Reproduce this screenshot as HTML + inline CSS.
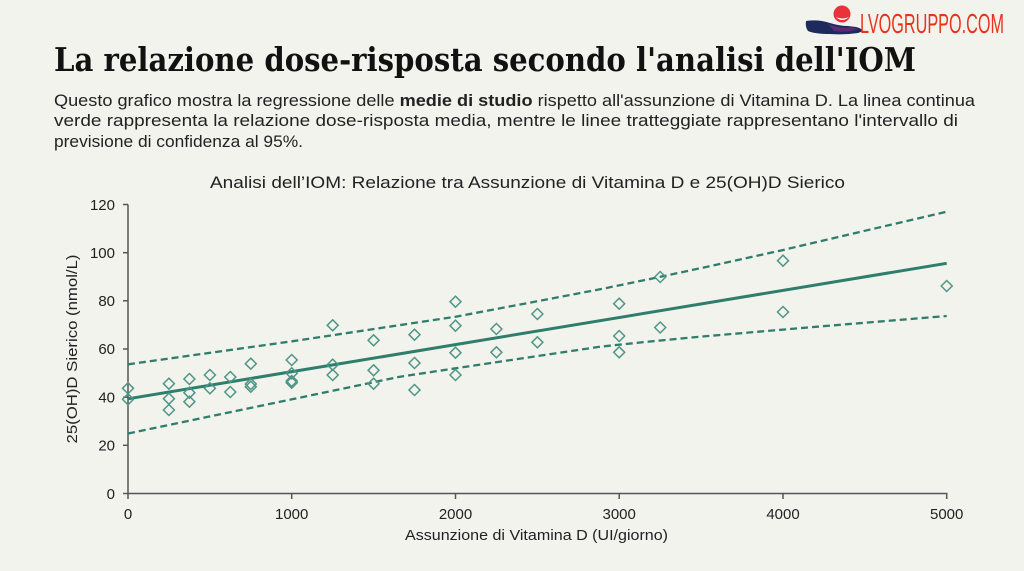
<!DOCTYPE html>
<html>
<head>
<meta charset="utf-8">
<style>
html,body{margin:0;padding:0;background:#f3f3ee;}
svg{display:block;}
</style>
</head>
<body>
<svg width="1024" height="571" viewBox="0 0 1024 571" xmlns="http://www.w3.org/2000/svg">
<rect x="0" y="0" width="1024" height="571" fill="#f3f3ee"/>

<!-- Logo -->
<g>
  <path d="M806,21 Q818,19 830,23 Q840,26 848,26 L856,27 Q861,28 863,31 L858,33 Q845,35 830,34 Q815,34 808,31 Q805,27 806,21 Z" fill="#1d2a5c"/>
  <path d="M828,24 Q840,29 852,27 L858,29 Q848,33 834,31 Z" fill="#6a2a7a" opacity="0.8"/>
  <circle cx="842" cy="14" r="8.5" fill="#e8333a"/>
  <path d="M836,17 Q842,23 849,17 Q842,20 836,17 Z" fill="#ffffff"/>
  <text x="860" y="33" font-family="'Liberation Sans Narrow','Liberation Sans',sans-serif" font-size="28" fill="#e8331c" textLength="144" lengthAdjust="spacingAndGlyphs">LVOGRUPPO.COM</text>
</g>

<!-- Title -->
<text x="54" y="71" font-family="'DejaVu Serif','Liberation Serif',serif" font-weight="bold" font-size="33" fill="#111" textLength="862" lengthAdjust="spacingAndGlyphs">La relazione dose-risposta secondo l'analisi dell'IOM</text>

<!-- Subtitle -->
<g font-family="'Liberation Sans',sans-serif" font-size="17" fill="#222">
  <text x="54" y="106" textLength="921" lengthAdjust="spacingAndGlyphs">Questo grafico mostra la regressione delle <tspan font-weight="bold">medie di studio</tspan> rispetto all'assunzione di Vitamina D. La linea continua</text>
  <text x="54" y="126" textLength="904" lengthAdjust="spacingAndGlyphs">verde rappresenta la relazione dose-risposta media, mentre le linee tratteggiate rappresentano l'intervallo di</text>
  <text x="54" y="147" textLength="249" lengthAdjust="spacingAndGlyphs">previsione di confidenza al 95%.</text>
</g>

<!-- Chart title -->
<text x="210" y="188" font-family="'Liberation Sans',sans-serif" font-size="17" fill="#222" textLength="635" lengthAdjust="spacingAndGlyphs">Analisi dell’IOM: Relazione tra Assunzione di Vitamina D e 25(OH)D Sierico</text>

<!-- Axes -->
<g stroke="#555" stroke-width="1.5" fill="none">
  <line x1="128" y1="204.5" x2="128" y2="494"/>
  <line x1="127.3" y1="493.5" x2="947.5" y2="493.5"/>
  <!-- y ticks -->
  <line x1="123" y1="204.5" x2="128" y2="204.5"/>
  <line x1="123" y1="252.7" x2="128" y2="252.7"/>
  <line x1="123" y1="300.8" x2="128" y2="300.8"/>
  <line x1="123" y1="349" x2="128" y2="349"/>
  <line x1="123" y1="397.2" x2="128" y2="397.2"/>
  <line x1="123" y1="445.3" x2="128" y2="445.3"/>
  <line x1="123" y1="493.5" x2="128" y2="493.5"/>
  <!-- x ticks -->
  <line x1="128" y1="493.5" x2="128" y2="499"/>
  <line x1="291.7" y1="493.5" x2="291.7" y2="499"/>
  <line x1="455.5" y1="493.5" x2="455.5" y2="499"/>
  <line x1="619.2" y1="493.5" x2="619.2" y2="499"/>
  <line x1="783" y1="493.5" x2="783" y2="499"/>
  <line x1="946.7" y1="493.5" x2="946.7" y2="499"/>
</g>

<!-- Y tick labels -->
<g font-family="'Liberation Sans',sans-serif" font-size="15" fill="#222" text-anchor="end">
  <text x="115" y="210">120</text>
  <text x="115" y="258">100</text>
  <text x="115" y="306">80</text>
  <text x="115" y="354">60</text>
  <text x="115" y="402.5">40</text>
  <text x="115" y="450.5">20</text>
  <text x="115" y="499">0</text>
</g>

<!-- X tick labels -->
<g font-family="'Liberation Sans',sans-serif" font-size="15" fill="#222" text-anchor="middle">
  <text x="128" y="519">0</text>
  <text x="291.7" y="519">1000</text>
  <text x="455.5" y="519">2000</text>
  <text x="619.2" y="519">3000</text>
  <text x="783" y="519">4000</text>
  <text x="946.7" y="519">5000</text>
</g>

<!-- Axis titles -->
<text x="536.5" y="540" font-family="'Liberation Sans',sans-serif" font-size="14.5" fill="#222" text-anchor="middle" textLength="263" lengthAdjust="spacingAndGlyphs">Assunzione di Vitamina D (UI/giorno)</text>
<text transform="translate(77,349) rotate(-90)" x="0" y="0" font-family="'Liberation Sans',sans-serif" font-size="14.5" fill="#222" text-anchor="middle" textLength="189" lengthAdjust="spacingAndGlyphs">25(OH)D Sierico (nmol/L)</text>

<!-- Confidence lines -->
<g fill="none" stroke="#2f7d6c" stroke-width="2.3" stroke-dasharray="7,4">
  <polyline points="128,364.3 210,352.8 292,341.3 374,329 455.7,316.7 528,303 600,289.3 650,279 700,268.3 740,259.5 780,250.7 863,231.2 946.7,211.7"/>
  <polyline points="128,433.5 210,416.4 292,399.3 346,388 400,376.7 455.7,368.3 528,357.5 600,346.7 650,341.5 700,336.7 823,326.2 946.7,316"/>
</g>

<!-- Fit line -->
<line x1="128" y1="398.8" x2="946.7" y2="263.3" stroke="#2f7d6c" stroke-width="3"/>

<!-- Data points -->
<g fill="none" stroke="#4f9686" stroke-width="1.5">
  <path d="M128,382.8 l5.5,5.5 l-5.5,5.5 l-5.5,-5.5 Z"/>
  <path d="M128,393.8 l5.5,5.5 l-5.5,5.5 l-5.5,-5.5 Z"/>
  <path d="M168.9,378.2 l5.5,5.5 l-5.5,5.5 l-5.5,-5.5 Z"/>
  <path d="M168.9,393.2 l5.5,5.5 l-5.5,5.5 l-5.5,-5.5 Z"/>
  <path d="M168.9,404.5 l5.5,5.5 l-5.5,5.5 l-5.5,-5.5 Z"/>
  <path d="M189.4,373.5 l5.5,5.5 l-5.5,5.5 l-5.5,-5.5 Z"/>
  <path d="M189.4,387.2 l5.5,5.5 l-5.5,5.5 l-5.5,-5.5 Z"/>
  <path d="M189.4,396.2 l5.5,5.5 l-5.5,5.5 l-5.5,-5.5 Z"/>
  <path d="M209.9,369.5 l5.5,5.5 l-5.5,5.5 l-5.5,-5.5 Z"/>
  <path d="M209.9,382.8 l5.5,5.5 l-5.5,5.5 l-5.5,-5.5 Z"/>
  <path d="M230.3,371.5 l5.5,5.5 l-5.5,5.5 l-5.5,-5.5 Z"/>
  <path d="M230.3,386.5 l5.5,5.5 l-5.5,5.5 l-5.5,-5.5 Z"/>
  <path d="M250.8,358.2 l5.5,5.5 l-5.5,5.5 l-5.5,-5.5 Z"/>
  <path d="M250.8,378.5 l5.5,5.5 l-5.5,5.5 l-5.5,-5.5 Z"/>
  <path d="M250.8,381.2 l5.5,5.5 l-5.5,5.5 l-5.5,-5.5 Z"/>
  <path d="M291.7,354.5 l5.5,5.5 l-5.5,5.5 l-5.5,-5.5 Z"/>
  <path d="M291.7,367.8 l5.5,5.5 l-5.5,5.5 l-5.5,-5.5 Z"/>
  <path d="M291.7,375.5 l5.5,5.5 l-5.5,5.5 l-5.5,-5.5 Z"/>
  <path d="M291.7,377.2 l5.5,5.5 l-5.5,5.5 l-5.5,-5.5 Z"/>
  <path d="M332.7,319.8 l5.5,5.5 l-5.5,5.5 l-5.5,-5.5 Z"/>
  <path d="M332.7,359.2 l5.5,5.5 l-5.5,5.5 l-5.5,-5.5 Z"/>
  <path d="M332.7,369.5 l5.5,5.5 l-5.5,5.5 l-5.5,-5.5 Z"/>
  <path d="M373.6,334.8 l5.5,5.5 l-5.5,5.5 l-5.5,-5.5 Z"/>
  <path d="M373.6,364.8 l5.5,5.5 l-5.5,5.5 l-5.5,-5.5 Z"/>
  <path d="M373.6,378.2 l5.5,5.5 l-5.5,5.5 l-5.5,-5.5 Z"/>
  <path d="M414.5,329.2 l5.5,5.5 l-5.5,5.5 l-5.5,-5.5 Z"/>
  <path d="M414.5,357.5 l5.5,5.5 l-5.5,5.5 l-5.5,-5.5 Z"/>
  <path d="M414.5,384.5 l5.5,5.5 l-5.5,5.5 l-5.5,-5.5 Z"/>
  <path d="M455.5,296.2 l5.5,5.5 l-5.5,5.5 l-5.5,-5.5 Z"/>
  <path d="M455.5,320.2 l5.5,5.5 l-5.5,5.5 l-5.5,-5.5 Z"/>
  <path d="M455.5,347.2 l5.5,5.5 l-5.5,5.5 l-5.5,-5.5 Z"/>
  <path d="M455.5,369.5 l5.5,5.5 l-5.5,5.5 l-5.5,-5.5 Z"/>
  <path d="M496.4,323.5 l5.5,5.5 l-5.5,5.5 l-5.5,-5.5 Z"/>
  <path d="M496.4,346.8 l5.5,5.5 l-5.5,5.5 l-5.5,-5.5 Z"/>
  <path d="M537.4,308.5 l5.5,5.5 l-5.5,5.5 l-5.5,-5.5 Z"/>
  <path d="M537.4,336.8 l5.5,5.5 l-5.5,5.5 l-5.5,-5.5 Z"/>
  <path d="M619.2,298.2 l5.5,5.5 l-5.5,5.5 l-5.5,-5.5 Z"/>
  <path d="M619.2,330.5 l5.5,5.5 l-5.5,5.5 l-5.5,-5.5 Z"/>
  <path d="M619.2,346.8 l5.5,5.5 l-5.5,5.5 l-5.5,-5.5 Z"/>
  <path d="M660.2,271.5 l5.5,5.5 l-5.5,5.5 l-5.5,-5.5 Z"/>
  <path d="M660.2,322 l5.5,5.5 l-5.5,5.5 l-5.5,-5.5 Z"/>
  <path d="M783,255.2 l5.5,5.5 l-5.5,5.5 l-5.5,-5.5 Z"/>
  <path d="M783,306.5 l5.5,5.5 l-5.5,5.5 l-5.5,-5.5 Z"/>
  <path d="M946.7,280.5 l5.5,5.5 l-5.5,5.5 l-5.5,-5.5 Z"/>
</g>
</svg>
</body>
</html>
